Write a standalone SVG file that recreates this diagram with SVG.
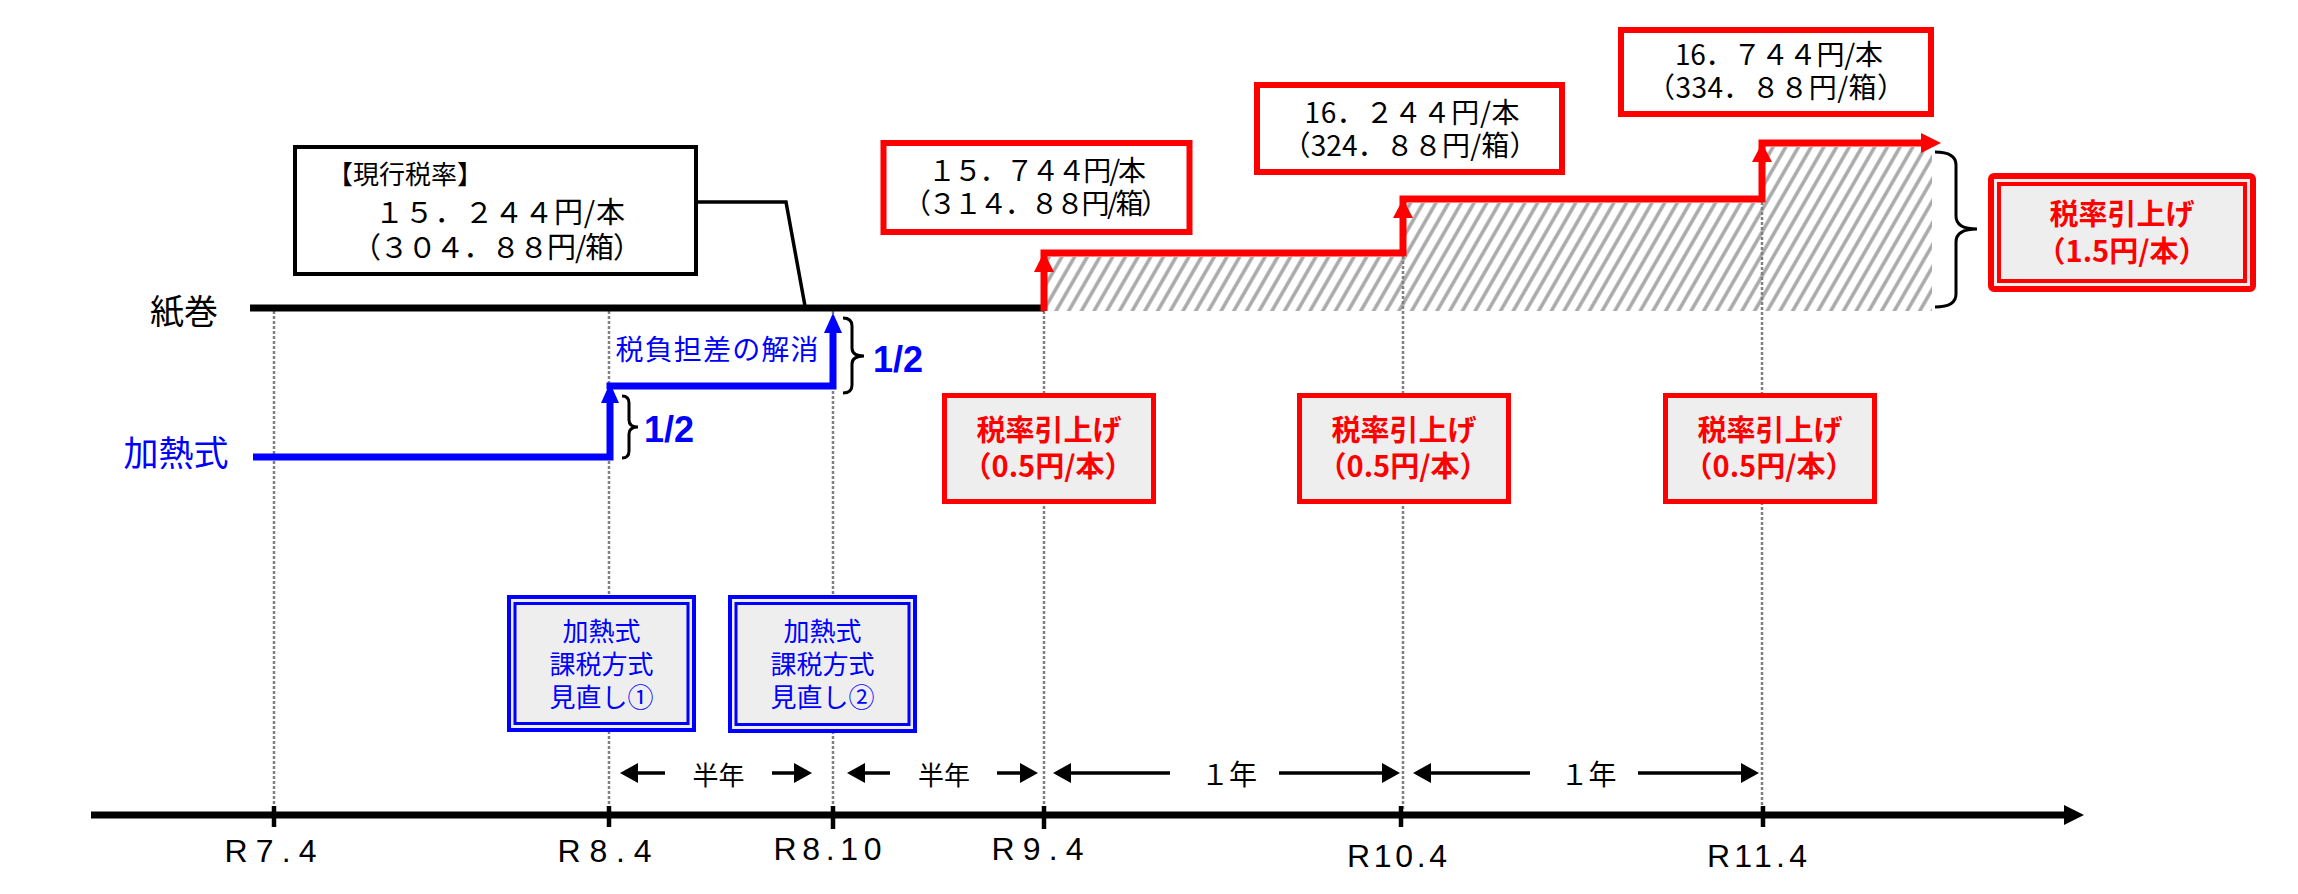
<svg xmlns="http://www.w3.org/2000/svg" width="2298" height="894" viewBox="0 0 2298 894">
<style>
.jp{font-family:'Noto Sans CJK JP','Noto Sans CJK SC',sans-serif}
.ax{font-family:'Liberation Sans',Arial,sans-serif;font-size:32px;text-anchor:middle;fill:#000}
.dot{stroke:#808080;stroke-width:2.5;stroke-dasharray:3 2;fill:none}
.span{stroke:#000;stroke-width:3.5;fill:none;marker-end:url(#sa)}
.tick{stroke:#000;stroke-width:4.5}
.red{fill:none;stroke:#ff0000;stroke-width:7;stroke-linejoin:miter}
.blue{fill:none;stroke:#0000ff;stroke-width:7;stroke-linejoin:miter}
.brace{fill:none;stroke:#000;stroke-width:3}
.rbox{fill:#eeeeee;stroke:#ff0000;stroke-width:5}
.rtxt{font-size:29px;font-weight:bold;fill:#ff0000;text-anchor:middle}
.btxt{font-size:26px;fill:#0000ff;text-anchor:middle}
.ptxt{font-size:28px;fill:#000;text-anchor:middle}
.half{font-family:'Liberation Sans',Arial,sans-serif;font-size:36px;font-weight:bold;fill:#0000ff}
</style>
<defs>
<marker id="sa" markerUnits="userSpaceOnUse" markerWidth="18" markerHeight="20" refX="14" refY="10" orient="auto">
<path d="M0,0 L18,10 L0,20 z" fill="#000"/>
</marker>
<pattern id="hatch" patternUnits="userSpaceOnUse" width="11" height="11" patternTransform="rotate(30)">
<line x1="3" y1="0" x2="3" y2="11" stroke="#a8a8a8" stroke-width="3.5"/>
</pattern>
</defs>
<rect width="2298" height="894" fill="#fff"/>

<g id="guides">
<line class="dot" x1="274" y1="311" x2="274" y2="811"/>
<line class="dot" x1="609" y1="311" x2="609" y2="811"/>
<line class="dot" x1="833" y1="311" x2="833" y2="811"/>
<line class="dot" x1="1044" y1="311" x2="1044" y2="811"/>
<polygon points="1047,311 1047,257 1406,257 1406,203 1765,203 1765,147 1932,147 1932,311" fill="url(#hatch)"/>
<line class="dot" x1="1403" y1="256" x2="1403" y2="811"/>
<line class="dot" x1="1762" y1="202" x2="1762" y2="811"/>
</g>

<g id="connectors">
<line x1="250" y1="308" x2="1044" y2="308" stroke="#000" stroke-width="7"/>
<polyline points="698,202 786,202 805,306" fill="none" stroke="#000" stroke-width="3.5"/>
<path class="blue" d="M253,457 H610 V398"/>
<polygon points="610,383 601,403 619,403" fill="#0000ff"/>
<path class="blue" d="M606.5,386 H833 V328"/>
<polygon points="833,313 824,333 842,333" fill="#0000ff"/>
<path class="brace" d="M622,396 Q629,396 629,403 V420 Q629,427 638,427 Q629,427 629,434 V451 Q629,458 622,458"/>
<path class="brace" d="M843,318 Q852,318 852,326 V348 Q852,356 864,356 Q852,356 852,364 V385 Q852,393 843,393"/>
<path class="red" d="M1044,311 V253 H1403 V199 H1762 V143 H1924"/>
<polygon points="1044,252 1034,272 1054,272" fill="#ff0000"/>
<polygon points="1403,199 1393,218 1413,218" fill="#ff0000"/>
<polygon points="1762,143 1752,162 1772,162" fill="#ff0000"/>
<polygon points="1941,143 1921,133 1921,153" fill="#ff0000"/>
<path class="brace" d="M1935,152 Q1956,152 1956,165 V216 Q1956,229 1977,229 Q1956,229 1956,242 V294 Q1956,307 1935,307"/>
<line x1="91" y1="815" x2="2066" y2="815" stroke="#000" stroke-width="7"/>
<polygon points="2084,815 2064,805 2064,825" fill="#000"/>
<line class="tick" x1="274" y1="806" x2="274" y2="827"/>
<line class="tick" x1="609" y1="806" x2="609" y2="827"/>
<line class="tick" x1="833" y1="806" x2="833" y2="829"/>
<line class="tick" x1="1044" y1="806" x2="1044" y2="829"/>
<line class="tick" x1="1401" y1="806" x2="1401" y2="827"/>
<line class="tick" x1="1763" y1="806" x2="1763" y2="827"/>
<line class="span" x1="665" y1="773" x2="624" y2="773"/>
<line class="span" x1="772" y1="773" x2="808" y2="773"/>
<line class="span" x1="890" y1="773" x2="851" y2="773"/>
<line class="span" x1="997" y1="773" x2="1034" y2="773"/>
<line class="span" x1="1170" y1="773" x2="1057" y2="773"/>
<line class="span" x1="1279" y1="773" x2="1396" y2="773"/>
<line class="span" x1="1530" y1="773" x2="1417" y2="773"/>
<line class="span" x1="1638" y1="773" x2="1755" y2="773"/>
</g>

<g id="label-kamimaki"><text class="jp" x="184" y="324" font-size="34" text-anchor="middle" fill="#000">紙巻</text></g>
<g id="label-kanetsu"><text class="jp" x="176" y="466" font-size="35" text-anchor="middle" fill="#0000ff">加熱式</text></g>

<g id="box-current">
<rect x="295" y="147" width="401" height="127" fill="#fff" stroke="#000" stroke-width="4"/>
<text class="jp" x="405" y="184" font-size="26" text-anchor="middle">【現行税率】</text>
<text class="jp" x="500" y="223" font-size="29" text-anchor="middle" textLength="250" lengthAdjust="spacing">１５．２４４円/本</text>
<text class="jp" x="497" y="258" font-size="29" text-anchor="middle" textLength="290" lengthAdjust="spacing">（３０４．８８円/箱）</text>
</g>

<g id="label-kaisho"><text class="jp" x="717" y="360" font-size="28" text-anchor="middle" fill="#0000ff" textLength="203" lengthAdjust="spacing">税負担差の解消</text></g>
<g id="label-half1"><text class="half" x="644" y="442">1/2</text></g>
<g id="label-half2"><text class="half" x="873" y="372">1/2</text></g>

<g id="box-rate1">
<rect x="883.5" y="143" width="306" height="89" fill="#fff" stroke="#ff0000" stroke-width="6"/>
<text class="jp ptxt" x="1037" y="181" textLength="218" lengthAdjust="spacing">１５．７４４円/本</text>
<text class="jp ptxt" x="1036" y="214" textLength="266" lengthAdjust="spacing">（３１４．８８円/箱）</text>
</g>
<g id="box-rate2">
<rect x="1257" y="85" width="305" height="87" fill="#fff" stroke="#ff0000" stroke-width="6"/>
<text class="jp ptxt" x="1412" y="123" textLength="215" lengthAdjust="spacing">16．２４４円/本</text>
<text class="jp ptxt" x="1410" y="156" textLength="255" lengthAdjust="spacing">（324．８８円/箱）</text>
</g>
<g id="box-rate3">
<rect x="1621" y="30" width="310" height="84" fill="#fff" stroke="#ff0000" stroke-width="6"/>
<text class="jp ptxt" x="1779" y="65" textLength="208" lengthAdjust="spacing">16．７４４円/本</text>
<text class="jp ptxt" x="1776" y="98" textLength="258" lengthAdjust="spacing">（334．８８円/箱）</text>
</g>

<g id="box-total">
<rect x="1991" y="176" width="262" height="113" rx="3" fill="#eeeeee" stroke="#ff0000" stroke-width="6"/>
<rect x="1999" y="184" width="246" height="97" fill="none" stroke="#ff0000" stroke-width="4"/>
<text class="jp rtxt" x="2122" y="225" font-size="30">税率引上げ</text>
<text class="jp rtxt" x="2122" y="262" font-size="30">（1.5円/本）</text>
</g>

<g id="box-up1">
<rect class="rbox" x="944.5" y="395.5" width="209" height="106"/>
<text class="jp rtxt" x="1049" y="441">税率引上げ</text>
<text class="jp rtxt" x="1048" y="477">（0.5円/本）</text>
</g>
<g id="box-up2">
<rect class="rbox" x="1299.5" y="395.5" width="209" height="106"/>
<text class="jp rtxt" x="1404" y="441">税率引上げ</text>
<text class="jp rtxt" x="1403" y="477">（0.5円/本）</text>
</g>
<g id="box-up3">
<rect class="rbox" x="1665.5" y="395.5" width="209" height="106"/>
<text class="jp rtxt" x="1770" y="441">税率引上げ</text>
<text class="jp rtxt" x="1769" y="477">（0.5円/本）</text>
</g>

<g id="box-review1">
<rect x="509" y="597" width="185" height="133" fill="#eeeeee" stroke="#0000ff" stroke-width="4"/>
<rect x="515" y="603.5" width="173" height="120" fill="none" stroke="#0000ff" stroke-width="3"/>
<text class="jp btxt" x="601.5" y="641">加熱式</text>
<text class="jp btxt" x="601.5" y="674">課税方式</text>
<text class="jp btxt" x="601.5" y="707">見直し①</text>
</g>
<g id="box-review2">
<rect x="730" y="597" width="185" height="134" fill="#eeeeee" stroke="#0000ff" stroke-width="4"/>
<rect x="736" y="603.5" width="173" height="121" fill="none" stroke="#0000ff" stroke-width="3"/>
<text class="jp btxt" x="822.5" y="641">加熱式</text>
<text class="jp btxt" x="822.5" y="674">課税方式</text>
<text class="jp btxt" x="822.5" y="707">見直し②</text>
</g>

<g id="span-labels">
<text class="jp" x="718.5" y="785" font-size="26" text-anchor="middle">半年</text>
<text class="jp" x="944" y="785" font-size="26" text-anchor="middle">半年</text>
<text class="jp" x="1229" y="785" font-size="28" text-anchor="middle">１年</text>
<text class="jp" x="1588.5" y="785" font-size="28" text-anchor="middle">１年</text>
</g>

<g id="axis-labels">
<text class="ax" x="270.5" y="862" textLength="92" lengthAdjust="spacing">R7.4</text>
<text class="ax" x="604.5" y="862" textLength="94" lengthAdjust="spacing">R8.4</text>
<text class="ax" x="827.5" y="860" textLength="108" lengthAdjust="spacing">R8.10</text>
<text class="ax" x="1037.5" y="860" textLength="92" lengthAdjust="spacing">R9.4</text>
<text class="ax" x="1397" y="867" textLength="100" lengthAdjust="spacing">R10.4</text>
<text class="ax" x="1757" y="867" textLength="100" lengthAdjust="spacing">R11.4</text>
</g>
</svg>
